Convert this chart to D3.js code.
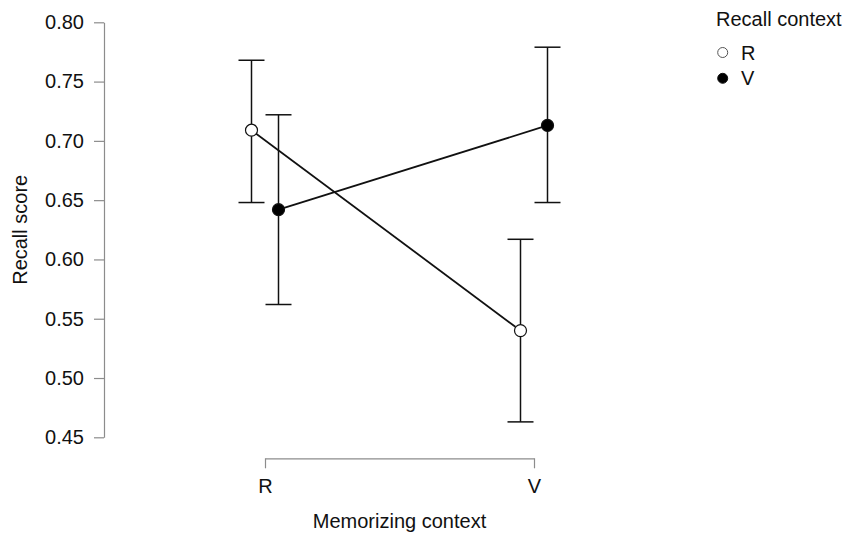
<!DOCTYPE html>
<html>
<head>
<meta charset="utf-8">
<script src="https://cdn.jsdelivr.net/npm/d3@7"></script>
<style>
  body { margin: 0; background: #fff; }
  svg { font-family: "Liberation Sans", Arial, sans-serif; }
</style>
</head>
<body>
<script>
// Data
const memorizing = ["R", "V"];
const recallGroups = ["R", "V"];
const meanR = [0.709, 0.540];
const meanV = [0.642, 0.713];
const lowerR = [0.648, 0.463];
const lowerV = [0.562, 0.648];
const upperR = [0.768, 0.617];
const upperV = [0.722, 0.779];
const yTicks = [0.45, 0.50, 0.55, 0.60, 0.65, 0.70, 0.75, 0.80];

const width = 846;
const height = 534;

const series = [
  { key: "R", fill: "#fff", mean: meanR, lo: lowerR, hi: upperR, off: -13.5 },
  { key: "V", fill: "#000", mean: meanV, lo: lowerV, hi: upperV, off: 13.5 }
];

const x = d3.scalePoint().domain(memorizing).range([265, 534]);
const y = d3.scaleLinear().domain([0.45, 0.80]).range([437.3, 22.3]);

const svg = d3.select("body")
  .append("svg")
  .attr("width", width)
  .attr("height", height);

// Y axis
const yAxis = svg.append("g")
  .attr("transform", "translate(104,0)")
  .call(d3.axisLeft(y)
    .tickValues(yTicks)
    .tickFormat(d3.format(".2f"))
    .tickSize(10)
    .tickSizeOuter(0)
    .tickPadding(10));
yAxis.selectAll("path, line").attr("stroke", "#8c8c8c").attr("stroke-width", 1.2);
yAxis.selectAll("text").attr("font-size", 20).attr("fill", "#111")
  .attr("font-family", "'Liberation Sans', Arial, sans-serif");

// X axis
const xAxis = svg.append("g")
  .attr("transform", "translate(0,458.3)")
  .call(d3.axisBottom(x)
    .tickSize(10)
    .tickSizeOuter(0)
    .tickPadding(11));
xAxis.selectAll("path, line").attr("stroke", "#8c8c8c").attr("stroke-width", 1.2);
xAxis.selectAll("text").attr("font-size", 20).attr("fill", "#111")
  .attr("font-family", "'Liberation Sans', Arial, sans-serif");

// Axis titles
svg.append("text")
  .attr("transform", `translate(27,${(y(0.45) + y(0.80)) / 2}) rotate(-90)`)
  .attr("text-anchor", "middle")
  .attr("font-size", 20)
  .attr("fill", "#111")
  .text("Recall score");

svg.append("text")
  .attr("x", (x("R") + x("V")) / 2)
  .attr("y", 528)
  .attr("text-anchor", "middle")
  .attr("font-size", 20)
  .attr("fill", "#111")
  .text("Memorizing context");

// Lines joining the means
const line = d3.line()
  .x(d => d.x)
  .y(d => y(d.v));

series.forEach(s => {
  const pts = memorizing.map((m, i) => ({ x: x(m) + s.off, v: s.mean[i], lo: s.lo[i], hi: s.hi[i] }));

  svg.append("path")
    .datum(pts)
    .attr("fill", "none")
    .attr("stroke", "#111")
    .attr("stroke-width", 1.8)
    .attr("d", line);

  const bars = svg.append("g")
    .attr("stroke", "#111")
    .attr("stroke-width", 1.5);

  bars.selectAll(".stem")
    .data(pts)
    .join("line")
    .attr("x1", d => d.x)
    .attr("x2", d => d.x)
    .attr("y1", d => y(d.lo))
    .attr("y2", d => y(d.hi));

  bars.selectAll(".cap")
    .data(pts.flatMap(d => [{ x: d.x, v: d.lo }, { x: d.x, v: d.hi }]))
    .join("line")
    .attr("x1", d => d.x - 13)
    .attr("x2", d => d.x + 13)
    .attr("y1", d => y(d.v))
    .attr("y2", d => y(d.v));

  s.pts = pts;
});

series.forEach(s => {
  svg.append("g")
    .selectAll("circle")
    .data(s.pts)
    .join("circle")
    .attr("cx", d => d.x)
    .attr("cy", d => y(d.v))
    .attr("r", 6)
    .attr("fill", s.fill)
    .attr("stroke", "#111")
    .attr("stroke-width", 1.2);
});

// Legend
const legend = svg.append("g");
legend.append("text")
  .attr("x", 716)
  .attr("y", 26)
  .attr("font-size", 20)
  .attr("fill", "#111")
  .text("Recall context");

const items = legend.selectAll(".item")
  .data(series)
  .join("g")
  .attr("transform", (d, i) => `translate(0,${52.5 + i * 25.8})`);

items.append("circle")
  .attr("cx", 722.7)
  .attr("cy", 0)
  .attr("r", 5)
  .attr("fill", d => d.fill)
  .attr("stroke", d => d.key === "R" ? "#555" : "#111")
  .attr("stroke-width", 1);

items.append("text")
  .attr("x", 741)
  .attr("y", 0)
  .attr("dy", "0.35em")
  .attr("font-size", 20)
  .attr("fill", "#111")
  .text((d, i) => recallGroups[i]);
</script>
</body>
</html>
